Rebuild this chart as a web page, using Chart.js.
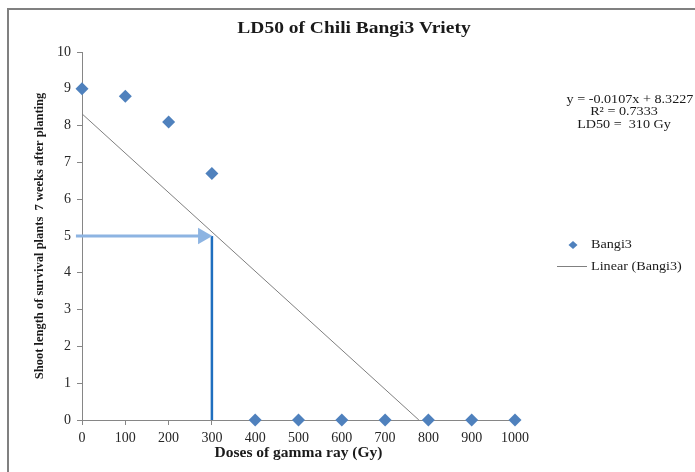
<!DOCTYPE html>
<html>
<head>
<meta charset="utf-8">
<script src="https://cdn.jsdelivr.net/npm/chart.js@4"></script>
<style>
  html, body { margin: 0; padding: 0; background: #fff; }
  canvas { display: block; }
</style>
</head>
<body>
<canvas id="ld50-chart" width="695" height="472"></canvas>
<script>
// LD50 - Chili Bangi3

const doses = [0, 100, 200, 300, 400, 500, 600, 700, 800, 900, 1000];
const shootLength = [9, 8.8, 8.1, 6.7, 0, 0, 0, 0, 0, 0, 0];

// linha de tendência (y = -0.0107x + 8.3227), extremos
const trendX = [0, 778];
const trendY = [8.32, 0];

// seta horizontal em y = 5 e linha vertical em x = 300 (LD50)
const arrowX = [-14, 279];
const arrowY = [5, 5];
const dropX = [300, 300];
const dropY = [5, 0];

const chartTitle = 'LD50 of Chili Bangi3 Vriety';
const equationLines = ['y = -0.0107x + 8.3227', 'R² = 0.7333', 'LD50 =  310 Gy'];
const legendLabels = ['Bangi3', 'Linear (Bangi3)'];

const SERIF = '"Liberation Serif", "Times New Roman", serif';
const AXIS_GREY = '#868686';
const STRETCH = 1.18; // o original está um pouco esticado na horizontal

const pts = (xs, ys) => xs.map((x, i) => ({ x: x, y: ys[i] }));

function wideText(c, text, x, y) {
  c.save();
  c.translate(x, y);
  c.scale(STRETCH, 1);
  c.fillText(text, 0, 0);
  c.restore();
}

// moldura, título, legenda e equação
const extrasPlugin = {
  id: 'extras',
  beforeDraw(chart) {
    const c = chart.ctx;
    c.save();
    c.fillStyle = '#fff';
    c.fillRect(0, 0, chart.width, chart.height);
    c.strokeStyle = '#808080';
    c.lineWidth = 2;
    c.beginPath();
    c.moveTo(8, chart.height);
    c.lineTo(8, 9);
    c.lineTo(chart.width, 9);
    c.stroke();
    c.restore();
  },
  afterDraw(chart) {
    const c = chart.ctx;
    c.save();
    c.fillStyle = '#1a1a1a';
    c.textBaseline = 'middle';
    c.textAlign = 'center';
    c.font = 'bold 16.5px ' + SERIF;
    wideText(c, chartTitle, 354, 29);

    c.font = '12px ' + SERIF;
    equationLines.forEach((t, i) => wideText(c, t, i === 0 ? 630 : 624, 100 + i * 12.2));

    // legenda
    c.textAlign = 'left';
    c.fillStyle = '#4F81BD';
    c.beginPath();
    c.moveTo(573, 241); c.lineTo(577.5, 245); c.lineTo(573, 249); c.lineTo(568.5, 245);
    c.closePath();
    c.fill();
    c.fillStyle = '#1a1a1a';
    c.font = '12px ' + SERIF;
    wideText(c, legendLabels[0], 591, 245);
    c.strokeStyle = '#808080';
    c.lineWidth = 1;
    c.beginPath();
    c.moveTo(557, 266.5); c.lineTo(587, 266.5);
    c.stroke();
    wideText(c, legendLabels[1], 591, 267);
    c.restore();
  }
};

new Chart(document.getElementById('ld50-chart'), {
  type: 'scatter',
  data: {
    datasets: [
      {
        label: legendLabels[0],
        data: pts(doses, shootLength),
        pointStyle: 'rectRot',
        pointRadius: 6.5,
        pointBackgroundColor: '#4F81BD',
        pointBorderColor: '#4F81BD',
        pointBorderWidth: 0,
        clip: false,
        order: 0
      },
      {
        label: legendLabels[1],
        data: pts(trendX, trendY),
        showLine: true,
        borderColor: '#7F7F7F',
        borderWidth: 1,
        pointRadius: 0,
        order: 3
      },
      {
        label: 'ld50-seta',
        data: pts(arrowX, arrowY),
        showLine: true,
        borderColor: '#8DB4E2',
        borderWidth: 3,
        pointStyle: 'triangle',
        pointRadius: [0, 9.5],
        pointRotation: [0, 90],
        pointBackgroundColor: '#8DB4E2',
        pointBorderWidth: 0,
        clip: false,
        order: 1
      },
      {
        label: 'ld50-vertical',
        data: pts(dropX, dropY),
        showLine: true,
        borderColor: '#1F6FBF',
        borderWidth: 2.5,
        pointRadius: 0,
        order: 2
      }
    ]
  },
  options: {
    responsive: false,
    animation: false,
    layout: { padding: { left: 0, top: 52, right: 180, bottom: 0 } },
    plugins: {
      legend: { display: false },
      tooltip: { enabled: false },
      title: { display: false }
    },
    scales: {
      x: {
        type: 'linear',
        min: 0,
        max: 1000,
        afterFit: s => { s.height = 52; },
        ticks: {
          stepSize: 100,
          color: '#262626',
          padding: 5,
          maxRotation: 0,
          callback: v => String(v),
          font: { family: SERIF, size: 14 }
        },
        grid: { drawOnChartArea: false, drawTicks: true, tickLength: 5, color: AXIS_GREY },
        border: { color: AXIS_GREY },
        title: {
          display: true,
          text: 'Doses of gamma ray (Gy)',
          color: '#1a1a1a',
          font: { family: SERIF, size: 15.5, weight: 'bold' },
          padding: { top: 0, bottom: 9.5 }
        }
      },
      y: {
        min: 0,
        max: 10,
        afterFit: s => { s.width = 82; },
        ticks: {
          stepSize: 1,
          color: '#262626',
          padding: 6,
          font: { family: SERIF, size: 14 }
        },
        grid: { drawOnChartArea: false, drawTicks: true, tickLength: 5, color: AXIS_GREY },
        border: { color: AXIS_GREY },
        title: {
          display: true,
          text: 'Shoot length of survival plants  7 weeks after planting',
          color: '#1a1a1a',
          font: { family: SERIF, size: 12.5, weight: 'bold' },
          padding: { top: 32, bottom: 0 }
        }
      }
    }
  },
  plugins: [extrasPlugin]
});
</script>
</body>
</html>
